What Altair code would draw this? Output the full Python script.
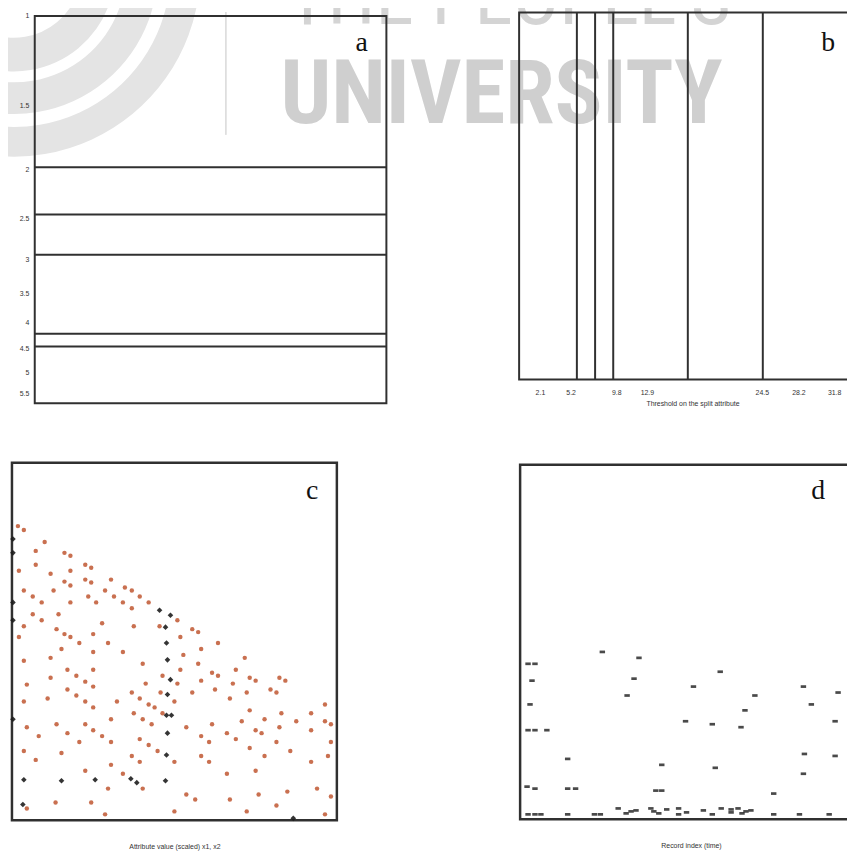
import altair as alt
import pandas as pd

W, H = 847, 852

# ---------------- data ----------------
# panel a : horizontal split lines on a (reversed) log axis
a_tick_values = [1, 1.5, 2, 2.5, 3, 3.5, 4, 4.5, 5, 5.5]
a_domain = [1, 5.75]
a_split_values = [1.98, 2.45, 2.94, 4.2, 4.45]

# panel b : vertical split lines
b_tick_values = [2.1, 5.2, 9.8, 12.9, 24.5, 28.2, 31.8]
b_domain = [0, 35]
b_split_values = [5.83, 7.67, 9.5, 17.03, 24.6]

# panel c : scatter (orange) + black markers
c_domain_x = [0, 328]
c_domain_y = [0, 361]
c_orange_x = [6, 12, 33, 24, 53, 59, 7, 24, 74, 80, 59, 39, 53, 59, 74, 80, 100, 12, 42, 94,
              114, 121, 21, 77, 103, 129, 30, 59, 85, 112, 138, 121, 21, 47, 30, 91, 12, 123, 149, 45,
              7, 53, 59, 82, 68, 97, 50, 82, 112, 39, 12, 132,
              167, 182, 188, 170, 208, 191, 173, 235, 188,
              56, 82, 39, 65, 74, 82, 15, 56, 65, 36, 74, 12, 82, 106, 121, 129, 135, 152, 150, 138,
              144, 164, 123, 152, 100, 132, 15, 45, 74, 141, 56, 82, 27, 91, 129, 68, 100, 138, 147, 12,
              50, 121, 24, 100, 129, 164, 74, 112, 97, 132, 44, 80, 15, 94, 164,
              170, 202, 208, 226, 167, 191, 223, 240, 246, 270, 276, 182, 205, 237, 261, 267, 220, 316, 240, 272,
              302, 255, 232, 287, 316, 322, 176, 202, 270, 246, 252, 302, 217, 191, 226, 199, 267, 322, 240, 281,
              191, 255, 319, 199, 302, 246, 217, 308, 278, 176, 249, 322, 185, 220, 267, 237, 316]
c_orange_y = [297, 293, 281, 272, 270, 267, 252, 258, 258, 255, 252, 249, 241, 237, 243, 240, 243, 232, 232, 232,
              235, 232, 226, 226, 226, 226, 220, 220, 220, 220, 220, 214, 208, 208, 202, 199, 196, 196, 196, 193,
              185, 188, 185, 188, 179, 179, 173, 170, 170, 164, 161, 158,
              202, 193, 190, 185, 179, 173, 167, 164, 158,
              152, 152, 144, 146, 140, 135, 137, 132, 126, 123, 120, 120, 114, 120, 129, 123, 138, 146, 129, 117,
              114, 120, 108, 108, 102, 102, 94, 97, 97, 97, 88, 91, 85, 85, 82, 79, 79, 76, 70, 70,
              68, 65, 61, 56, 59, 59, 50, 47, 32, 32, 18, 18, 12, 6, 9,
              152, 149, 146, 152, 138, 141, 138, 144, 141, 144, 141, 129, 132, 129, 132, 129, 123, 117, 111, 108,
              108, 102, 100, 100, 100, 97, 94, 97, 94, 91, 88, 91, 88, 85, 82, 79, 79, 79, 73, 70,
              65, 65, 65, 59, 59, 50, 47, 32, 29, 26, 26, 24, 21, 21, 15, 9, 6]
c_black_x = [149, 160, 155, 156, 157, 160, 157, 156, 161, 157, 156, 155, 12, 50, 84, 120, 126, 11,
             1, 1, 1, 1, 1, 284]
c_black_y = [212, 207, 195, 179, 162, 142, 127, 106, 106, 88, 66, 40, 41, 40, 41, 42, 38, 16,
             284, 270, 220, 202, 102, 2]

# panel d : black dash markers
d_domain_x = [0, 345]
d_domain_y = [0, 358]
d_x = [83, 8, 15, 120, 12, 115, 108, 10, 8, 15, 27, 48, 143, 7, 15, 48, 56, 137, 143,
       8, 15, 21, 48, 75, 81, 99, 107, 112, 117, 132, 135, 140, 148, 160, 160, 168, 185, 194, 203,
       213, 213, 220, 224, 228, 233, 256, 282, 312,
       202, 175, 286, 321, 237, 227, 294, 167, 194, 223, 318, 287, 318, 197, 286, 256]
d_y = [169, 157, 157, 163, 140, 142, 125, 116, 90, 90, 90, 61, 55, 33, 31, 31, 31, 29, 29,
       5, 5, 5, 5, 5, 5, 11, 6, 8, 9, 11, 8, 6, 10, 11, 5, 7, 9, 5, 11,
       10, 7, 11, 6, 8, 9, 5, 5, 5,
       149, 134, 134, 128, 125, 110, 116, 99, 96, 93, 99, 66, 64, 52, 46, 26]

panel_letters = ["a", "b", "c", "d"]
b_title = "Threshold on the split attribute"
c_title = "Attribute value   (scaled) x1, x2"
d_title = "Record index   (time)"

# ---------------- styling ----------------
FRAME = "#303030"
ORANGE = "#c3603d"
SANS = "Liberation Sans"

sAx = alt.Scale(domain=[0, 1], range=[27, 382], nice=False, zero=False)
sAy = alt.Scale(type="log", domain=a_domain, range=[4, 395], nice=False)
sBx = alt.Scale(domain=b_domain, range=[516, 866], nice=False, zero=False)
sBy = alt.Scale(domain=[0, 1], range=[371, 0.5], nice=False, zero=False)
sCx = alt.Scale(domain=c_domain_x, range=[4, 332], nice=False, zero=False)
sCy = alt.Scale(domain=c_domain_y, range=[816, 455], nice=False, zero=False)
sDx = alt.Scale(domain=d_domain_x, range=[517, 862], nice=False, zero=False)
sDy = alt.Scale(domain=d_domain_y, range=[815, 457], nice=False, zero=False)

axA = alt.Axis(orient="left", offset=-27, values=a_tick_values, format="~g", ticks=False,
               domain=False, grid=False, labelPadding=6, labelFontSize=7, labelColor="#333",
               labelFont=SANS, title=None, zindex=2)
axB = alt.Axis(orient="bottom", offset=371 - H, values=b_tick_values, format=".1f", ticks=False,
               domain=False, grid=False, labelPadding=9, labelFontSize=7, labelColor="#333",
               labelFont=SANS, title=b_title, titleFontSize=7, titleFontWeight="normal",
               titleColor="#333", titleFont=SANS, titlePadding=4, zindex=2)
axC = alt.Axis(orient="bottom", offset=816 - H, labels=False, ticks=False, domain=False, grid=False,
               title=c_title, titleFontSize=7, titleFontWeight="normal", titleColor="#333",
               titleFont=SANS, titlePadding=22)
axD = alt.Axis(orient="bottom", offset=815 - H, labels=False, ticks=False, domain=False, grid=False,
               title=d_title, titleFontSize=7, titleFontWeight="normal", titleColor="#333",
               titleFont=SANS, titlePadding=22)

# ---------------- watermark (behind everything) ----------------
WM_FONT = "Liberation Sans Narrow, Arial Narrow, Roboto Condensed, Roboto"
wm_univ = alt.Chart(pd.DataFrame({"t": ["UNIVERSITY"]})).mark_text(
    font=WM_FONT, fontSize=90, fontWeight="bold", color="#cfcfcf", align="left",
    baseline="alphabetic"
).encode(text="t:N", x=alt.value(275), y=alt.value(112))
wm_people = alt.Chart(pd.DataFrame({"t": ["THE PEOPLE'S"]})).mark_text(
    font=WM_FONT, fontSize=78, color="#d4d4d4", align="left", baseline="alphabetic"
).encode(text="t:N", x=alt.value(282), y=alt.value(12))
logo_df = pd.DataFrame({"r1": [158, 113, 68], "r2": [188, 145, 102]})
wm_logo = alt.Chart(logo_df).mark_arc(color="#e4e4e4", theta=1.4, theta2=3.5).encode(
    x=alt.value(6), y=alt.value(-42), radius=alt.Radius("r1:Q", scale=None),
    radius2="r2:Q")
wm_line = alt.Chart(pd.DataFrame({"k": [0]})).mark_rule(color="#c4c4c4", strokeWidth=1).encode(
    x=alt.value(220), y=alt.value(0), y2=alt.value(124))

# ---------------- panel a ----------------
dfA_frame = pd.DataFrame({"x0": [0], "x1": [1], "y0": [a_domain[0]], "y1": [a_domain[1]]})
dfA_lines = pd.DataFrame({"v": a_split_values, "x0": 0, "x1": 1})
frameA = alt.Chart(dfA_frame).mark_rect(fillOpacity=0, stroke=FRAME, strokeWidth=2).encode(
    x=alt.X("x0:Q", scale=sAx, axis=None), x2="x1:Q",
    y=alt.Y("y0:Q", scale=sAy, axis=axA), y2="y1:Q")
linesA = alt.Chart(dfA_lines).mark_rule(color=FRAME, strokeWidth=2).encode(
    x=alt.X("x0:Q", scale=sAx, axis=None), x2="x1:Q",
    y=alt.Y("v:Q", scale=sAy, axis=axA))
panelA = alt.layer(frameA, linesA)

# ---------------- panel b ----------------
dfB_frame = pd.DataFrame({"x0": [b_domain[0]], "x1": [b_domain[1]], "y0": [0], "y1": [1]})
dfB_lines = pd.DataFrame({"v": b_split_values, "y0": 0, "y1": 1})
frameB = alt.Chart(dfB_frame).mark_rect(fillOpacity=0, stroke=FRAME, strokeWidth=2).encode(
    x=alt.X("x0:Q", scale=sBx, axis=axB), x2="x1:Q",
    y=alt.Y("y0:Q", scale=sBy, axis=None), y2="y1:Q")
linesB = alt.Chart(dfB_lines).mark_rule(color=FRAME, strokeWidth=2).encode(
    x=alt.X("v:Q", scale=sBx, axis=axB),
    y=alt.Y("y0:Q", scale=sBy, axis=None), y2="y1:Q")
panelB = alt.layer(frameB, linesB)

# ---------------- panel c ----------------
dfC_frame = pd.DataFrame({"x0": [c_domain_x[0]], "x1": [c_domain_x[1]],
                          "y0": [c_domain_y[0]], "y1": [c_domain_y[1]]})
dfC_orange = pd.DataFrame({"x": c_orange_x, "y": c_orange_y})
dfC_black = pd.DataFrame({"x": c_black_x, "y": c_black_y})
frameC = alt.Chart(dfC_frame).mark_rect(fillOpacity=0, stroke=FRAME, strokeWidth=2.5).encode(
    x=alt.X("x0:Q", scale=sCx, axis=axC), x2="x1:Q",
    y=alt.Y("y0:Q", scale=sCy, axis=None), y2="y1:Q")
orangeC = alt.Chart(dfC_orange).mark_circle(size=20, color=ORANGE, opacity=0.9).encode(
    x=alt.X("x:Q", scale=sCx, axis=axC), y=alt.Y("y:Q", scale=sCy, axis=None))
blackC = alt.Chart(dfC_black).mark_point(shape="diamond", filled=True, size=32,
                                         color="#1e1e1e", opacity=0.9).encode(
    x=alt.X("x:Q", scale=sCx, axis=axC), y=alt.Y("y:Q", scale=sCy, axis=None))
panelC = alt.layer(frameC, orangeC, blackC)

# ---------------- panel d ----------------
dfD_frame = pd.DataFrame({"x0": [d_domain_x[0]], "x1": [d_domain_x[1]],
                          "y0": [d_domain_y[0]], "y1": [d_domain_y[1]]})
dfD = pd.DataFrame({"x": d_x, "y": d_y})
frameD = alt.Chart(dfD_frame).mark_rect(fillOpacity=0, stroke=FRAME, strokeWidth=2.5).encode(
    x=alt.X("x0:Q", scale=sDx, axis=axD), x2="x1:Q",
    y=alt.Y("y0:Q", scale=sDy, axis=None), y2="y1:Q")
pointsD = alt.Chart(dfD).mark_point(shape="M-1,-0.5H1V0.5H-1Z", filled=True, size=30,
                                    color="#2a2a2a", opacity=0.85).encode(
    x=alt.X("x:Q", scale=sDx, axis=axD), y=alt.Y("y:Q", scale=sDy, axis=None))
panelD = alt.layer(frameD, pointsD)

# ---------------- panel letters ----------------
letters = []
for letter, lx, ly in zip(panel_letters, [357, 828, 307, 818], [39, 39, 492, 492]):
    letters.append(
        alt.Chart(pd.DataFrame({"t": [letter]})).mark_text(
            font="Liberation Serif", fontSize=28, color="#111", align="center",
            baseline="alphabetic"
        ).encode(text="t:N", x=alt.value(lx), y=alt.value(ly))
    )

chart = alt.layer(
    wm_logo, wm_line, wm_people, wm_univ, panelA, panelB, panelC, panelD, *letters
).resolve_scale(
    x="independent", y="independent"
).properties(
    width=W, height=H, padding=0, autosize=alt.AutoSizeParams(type="none")
).configure_view(stroke=None)

chart.save("out.html", embed_options={"renderer": "svg", "actions": False})
